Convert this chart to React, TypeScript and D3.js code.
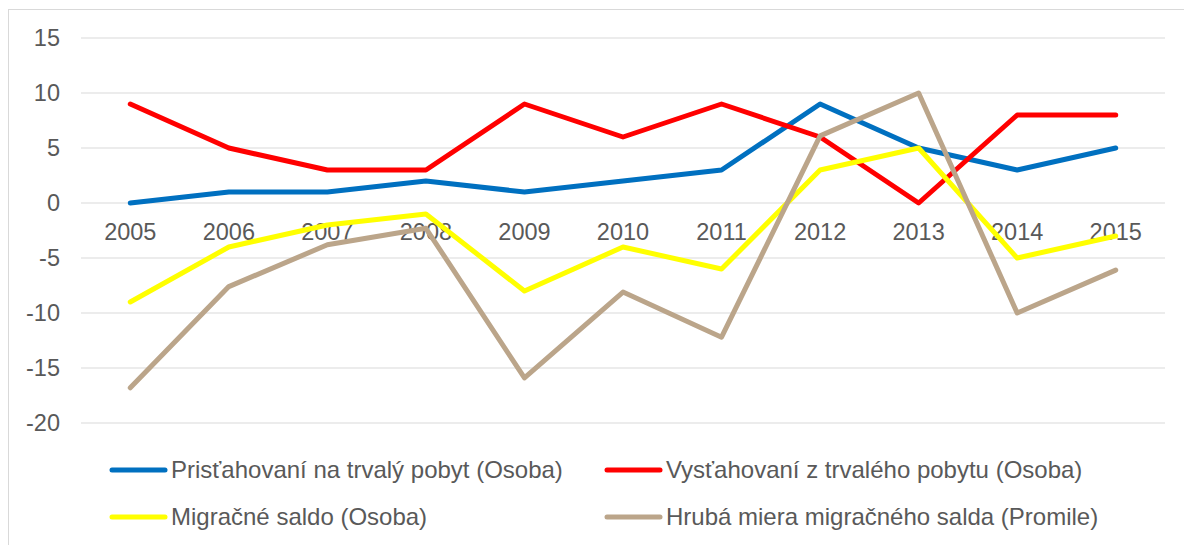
import React from "react";
import * as d3 from "d3";

const years = ["2005","2006","2007","2008","2009","2010","2011","2012","2013","2014","2015"];
const prist = [0,1,1,2,1,2,3,9,5,3,5];
const vyst = [9,5,3,3,9,6,9,6,0,8,8];
const saldo = [-9,-4,-2,-1,-8,-4,-6,3,5,-5,-3];
const hruba = [-16.8,-7.6,-3.8,-2.3,-15.9,-8.1,-12.2,6.1,10,-10,-6.1];
const yTicks = [15,10,5,0,-5,-10,-15,-20];
const seriesNames = [
  "Prisťahovaní na trvalý pobyt (Osoba)",
  "Vysťahovaní z trvalého pobytu (Osoba)",
  "Migračné saldo (Osoba)",
  "Hrubá miera migračného salda (Promile)",
];
const colors = ["#0070C0", "#FF0000", "#FFFF00", "#BBA58A"];

export default function App() {
  const W = 1184, H = 545;
  const x = d3.scaleBand().domain(years).range([81, 1165]);
  const y = d3.scaleLinear().domain([-20, 15]).range([423, 38]);
  const line = d3.line<number>().x((_, i) => x(years[i])! + x.bandwidth() / 2).y(d => y(d));
  const series = [prist, vyst, saldo, hruba];
  const drawOrder = [0, 1, 2, 3];
  const legendPos = [
    { lx: 112, ly: 470 },
    { lx: 607, ly: 470 },
    { lx: 112, ly: 517 },
    { lx: 607, ly: 517 },
  ];
  const font = "'Liberation Sans', Arial, sans-serif";
  const fs = 23.5;
  return (
    <svg width={W} height={H} style={{ position: "absolute", left: 0, top: 0 }} fontFamily={font}>
      <rect x={0} y={0} width={W} height={H} fill="#fff" />
      <rect x={8.5} y={9.5} width={W} height={H} fill="none" stroke="#d9d9d9" strokeWidth={1} />
      {yTicks.map(t => (
        <g key={t}>
          <line x1={81} x2={1165} y1={y(t)} y2={y(t)} stroke="#d9d9d9" strokeWidth={1} />
          <text x={60} y={y(t)} dy="0.35em" textAnchor="end" fontSize={fs} fill="#595959">{t}</text>
        </g>
      ))}
      {years.map(yr => (
        <text key={yr} x={x(yr)! + x.bandwidth() / 2} y={y(0) + 29} dy="0.35em" textAnchor="middle" fontSize={fs} fill="#595959">{yr}</text>
      ))}
      {drawOrder.map(i => (
        <path key={i} d={line(series[i])!} fill="none" stroke={colors[i]} strokeWidth={5} strokeLinejoin="round" strokeLinecap="round" />
      ))}
      {seriesNames.map((n, i) => (
        <g key={n}>
          <line x1={legendPos[i].lx} x2={legendPos[i].lx + 53} y1={legendPos[i].ly} y2={legendPos[i].ly} stroke={colors[i]} strokeWidth={5} strokeLinecap="round" />
          <text x={legendPos[i].lx + 59} y={legendPos[i].ly} dy="0.35em" fontSize={24} fill="#595959">{n}</text>
        </g>
      ))}
    </svg>
  );
}
